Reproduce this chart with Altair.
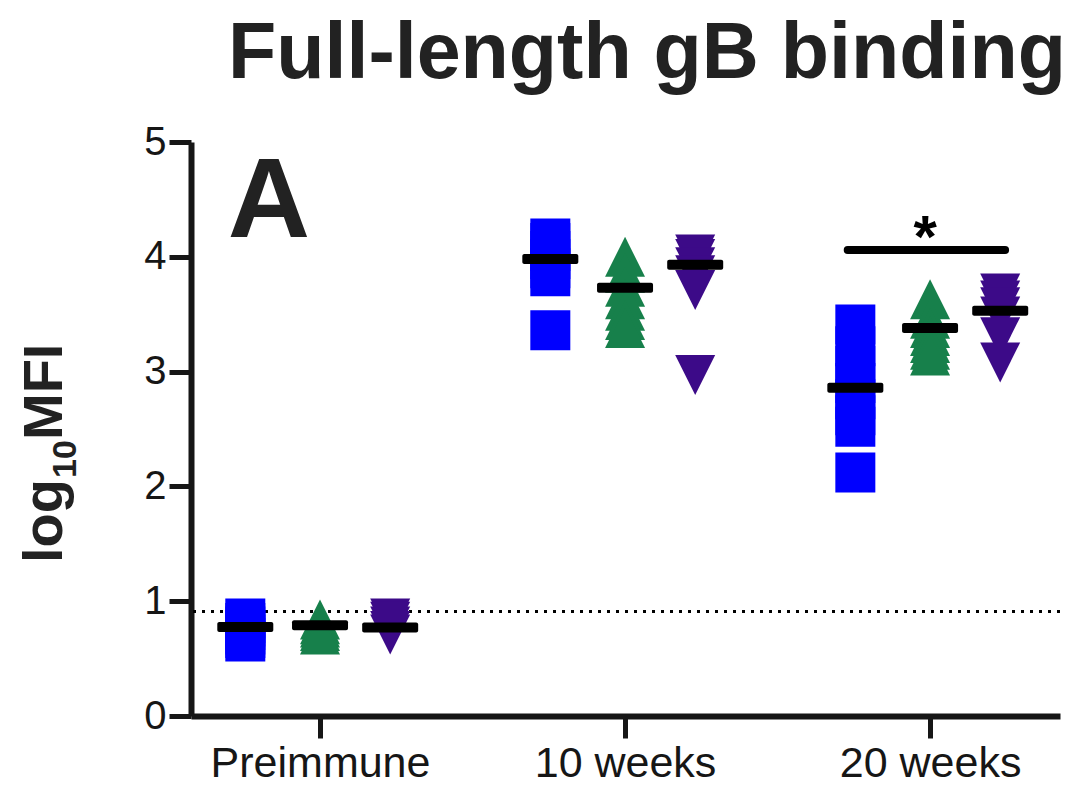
import altair as alt
import pandas as pd

# ---- data ----
groups = ["Preimmune", "10 weeks", "20 weeks"]
series = ["blue", "green", "purple"]
series_offsets = [-0.245, 0.0, 0.23]
series_colors = ["#0000FF", "#17804B", "#3C0A88"]
series_shapes = ["M-1,-1L1,-1L1,1L-1,1Z", "M0,-1L1,1L-1,1Z", "M-1,-1L1,-1L0,1Z"]

pre_blue = [0.85, 0.81, 0.78, 0.75, 0.71, 0.68, 0.65]
pre_green = [0.84, 0.80, 0.77, 0.74, 0.71]
pre_purple = [0.85, 0.82, 0.78, 0.74, 0.71]
w10_blue = [4.16, 4.12, 4.05, 3.98, 3.90, 3.83, 3.36]
w10_green = [4.00, 3.86, 3.74, 3.63, 3.53, 3.45, 3.38]
w10_purple = [4.02, 3.98, 3.91, 3.84, 3.71, 2.97]
w20_blue = [3.41, 3.22, 3.05, 2.90, 2.76, 2.62, 2.52, 2.12]
w20_green = [3.63, 3.46, 3.38, 3.31, 3.25, 3.19, 3.14]
w20_purple = [3.68, 3.62, 3.56, 3.48, 3.30, 3.08]

mean_pre = [0.775, 0.79, 0.77]
mean_w10 = [3.98, 3.73, 3.93]
mean_w20 = [2.86, 3.38, 3.53]

detection_limit = 0.91
sig_x_from = [1.73]
sig_x_to = [2.246]
sig_level = [4.06]
sig_star_x = [1.984]
sig_star_y = [4.0]
sig_label = ["*"]

y_ticks = [0, 1, 2, 3, 4, 5]
title_text = "Full-length gB binding"
panel_letter = "A"
y_title_parts = ["log", "10", "MFI"]

FONT = "Liberation Sans"
INK = "#161616"

# ---- tables ----
values_by_group = [
    [pre_blue, pre_green, pre_purple],
    [w10_blue, w10_green, w10_purple],
    [w20_blue, w20_green, w20_purple],
]
means_by_group = [mean_pre, mean_w10, mean_w20]

rows = []
mrows = []
for gi, g in enumerate(groups):
    for si, s in enumerate(series):
        for v in values_by_group[gi][si]:
            rows.append({"group": g, "series": s, "x": gi + series_offsets[si], "value": v})
        mrows.append({"group": g, "series": s, "x": gi + series_offsets[si],
                      "mean": means_by_group[gi][si]})
pts = pd.DataFrame(rows)
mns = pd.DataFrame(mrows)

xscale = alt.Scale(domain=[-0.423, 2.426], nice=False, zero=False)
yscale = alt.Scale(domain=[0, 5], nice=False)

label_expr = "[" + ",".join("'" + g + "'" for g in groups) + "][datum.value]"

base_x = alt.X("x:Q", scale=xscale, axis=alt.Axis(
    values=[0, 1, 2], labelExpr=label_expr, title=None, tickSize=22, labelPadding=4,
    labelFontSize=43, labelFlush=False, labelOverlap=False, labelLimit=0))
base_y = alt.Y("value:Q", scale=yscale, axis=alt.Axis(
    values=y_ticks, format="d", title=None, tickSize=22, labelPadding=3))

points = alt.Chart(pts).mark_point(filled=True, opacity=1, size=1600, strokeWidth=0).encode(
    x=base_x,
    y=base_y,
    color=alt.Color("series:N", scale=alt.Scale(domain=series, range=series_colors), legend=None),
    shape=alt.Shape("series:N", scale=alt.Scale(domain=series, range=series_shapes), legend=None),
)

mean_ticks = alt.Chart(mns).mark_tick(orient="horizontal", size=56, thickness=10,
                                      color="#000000", cornerRadius=2, opacity=1).encode(
    x=alt.X("x:Q", scale=xscale),
    y=alt.Y("mean:Q", scale=yscale),
)

dotted = alt.Chart(pd.DataFrame({"lod": [detection_limit]})).mark_rule(
    strokeDash=[3, 6], strokeWidth=3, color="#000000").encode(
    y=alt.Y("lod:Q", scale=yscale))

sig_df = pd.DataFrame({"x1": sig_x_from, "x2": sig_x_to, "y": sig_level})
sig_bar = alt.Chart(sig_df).mark_rule(strokeWidth=8, strokeCap="round", color="#000000").encode(
    x=alt.X("x1:Q", scale=xscale), x2="x2:Q", y=alt.Y("y:Q", scale=yscale))

star_df = pd.DataFrame({"x": sig_star_x, "y": sig_star_y, "t": sig_label})
sig_star = alt.Chart(star_df).mark_text(font=FONT, fontSize=60, fontWeight="bold",
                                        align="center", baseline="alphabetic", color="#000000").encode(
    x=alt.X("x:Q", scale=xscale), y=alt.Y("y:Q", scale=yscale), text="t:N")

title = alt.Chart(pd.DataFrame({"t": [title_text]})).mark_text(
    font=FONT, fontSize=79, fontWeight="bold", align="center", baseline="alphabetic",
    color="#222222").encode(x=alt.value(456), y=alt.value(-64), text="t:N")

letter = alt.Chart(pd.DataFrame({"t": [panel_letter]})).mark_text(
    font=FONT, fontSize=114, fontWeight="bold", align="center", baseline="alphabetic",
    color="#222222").encode(x=alt.value(78), y=alt.value(95), text="t:N")

yt_log = alt.Chart(pd.DataFrame({"t": [y_title_parts[0]]})).mark_text(
    font=FONT, fontSize=56, fontWeight="bold", align="left", baseline="alphabetic",
    angle=270, color="#222222").encode(x=alt.value(-129), y=alt.value(421), text="t:N")
yt_sub = alt.Chart(pd.DataFrame({"t": [y_title_parts[1]]})).mark_text(
    font=FONT, fontSize=34, fontWeight="bold", align="left", baseline="alphabetic",
    angle=270, color="#222222").encode(x=alt.value(-115), y=alt.value(336), text="t:N")
yt_mfi = alt.Chart(pd.DataFrame({"t": [y_title_parts[2]]})).mark_text(
    font=FONT, fontSize=56, fontWeight="bold", align="left", baseline="alphabetic",
    angle=270, color="#222222").encode(x=alt.value(-129), y=alt.value(298), text="t:N")

chart = alt.layer(
    dotted, points, mean_ticks, sig_bar, sig_star, title, letter, yt_log, yt_sub, yt_mfi
).properties(
    width=869, height=574,
    padding={"left": 183, "top": 134, "right": 2, "bottom": 63},
    autosize=alt.AutoSizeParams(type="none"),
).configure_view(strokeWidth=0).configure_axis(
    grid=False, domainColor=INK, domainWidth=6, tickColor=INK, tickWidth=5,
    labelFont=FONT, labelFontSize=40, labelColor=INK,
)

chart.save("out.html", embed_options={"renderer": "svg", "actions": False})
